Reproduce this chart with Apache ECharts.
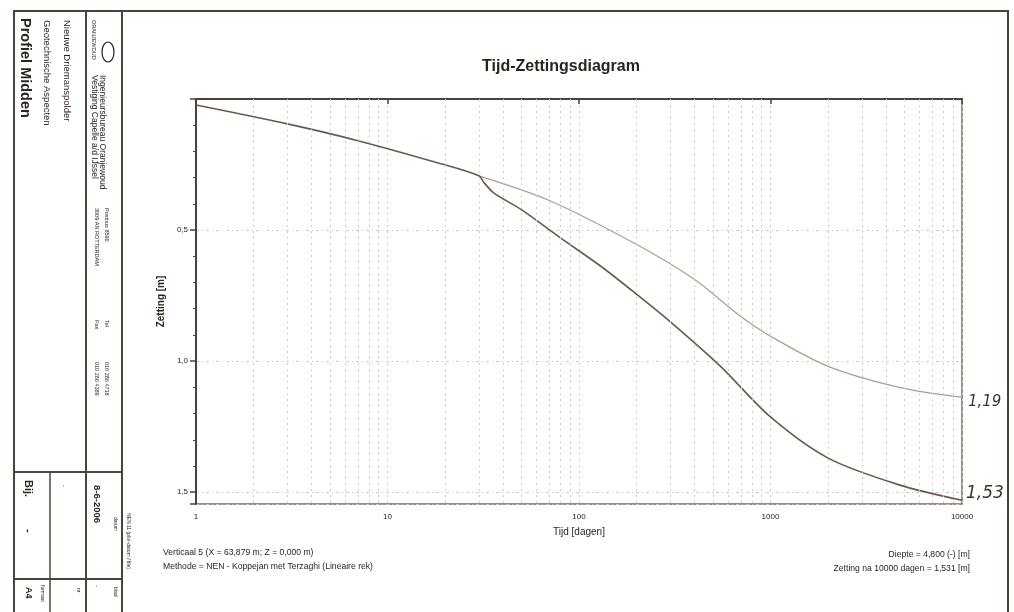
<!DOCTYPE html>
<html>
<head>
<meta charset="utf-8">
<title>Tijd-Zettingsdiagram</title>
<script src="https://cdn.jsdelivr.net/npm/echarts@6/dist/echarts.min.js"></script>
<style>
	html, body { margin: 0; padding: 0; background: #fff; }
	#chart { width: 1014px; height: 612px; }
</style>
</head>
<body>
<div id="chart"></div>
<script>
// values (tijd in dagen, zetting in m)
var upperTime = [30, 70, 200, 400, 700, 1000, 2000, 4700, 10000];
var upperZetting = [0.293, 0.387, 0.555, 0.688, 0.830, 0.905, 1.020, 1.100, 1.138];
var lowerTime = [1, 3, 7, 19, 30, 32, 36, 50, 80, 130, 200, 300, 545, 1000, 2000, 4700, 10000];
var lowerZetting = [0.023, 0.095, 0.159, 0.247, 0.293, 0.320, 0.359, 0.422, 0.530, 0.638, 0.745, 0.850, 1.018, 1.213, 1.370, 1.472, 1.531];
var xTicks = [1, 10, 100, 1000, 10000];
var yTicks = [0.5, 1.0, 1.5];

var ink = '#2b241d';
var frame = '#4e4234';
var faint = '#d4cbbf';
var font = '"Liberation Sans", Arial, sans-serif';

function pairs(xs, ys) {
	var out = [];
	for (var i = 0; i < xs.length; i++) out.push([xs[i], ys[i]]);
	return out;
}

// dotted vertical lines at 2..9 of every decade
var minorLines = [];
for (var d = 1; d < 10000; d *= 10) {
	for (var m = 2; m <= 9; m++) minorLines.push({ xAxis: d * m });
}

function txt(x, y, s, size, opt) {
	opt = opt || {};
	return {
		type: 'text', x: x, y: y,
		rotation: opt.rot ? -Math.PI / 2 : 0,
		style: {
			text: s, x: 0, y: 0,
			fill: opt.color || ink,
			fontFamily: opt.family || font,
			fontSize: size,
			fontWeight: opt.weight || 'normal',
			fontStyle: opt.style || 'normal',
			align: opt.align || 'left',
			verticalAlign: 'middle'
		}
	};
}
function ln(x1, y1, x2, y2, w) {
	return { type: 'line', shape: { x1: x1, y1: y1, x2: x2, y2: y2 }, style: { stroke: frame, lineWidth: w || 1.5 } };
}

var graphics = [
	// page frame + title block
	ln(13, 11, 1008, 11, 2),
	ln(14, 10, 14, 612, 2),
	ln(86, 10, 86, 612, 2),
	ln(122, 10, 122, 612, 2),
	ln(1008, 10, 1008, 612, 2),
	ln(14, 472, 122, 472, 2),
	ln(14, 579, 122, 579, 2),
	ln(50, 472, 50, 612, 1.5),
	txt(67, 20, 'Nieuwe Driemanspolder', 9.5, { rot: true }),
	txt(47, 20, 'Geotechnische Aspecten', 9.5, { rot: true }),
	txt(25, 18, 'Profiel Midden', 14.5, { rot: true, weight: 'bold' }),
	{ type: 'ellipse', shape: { cx: 108, cy: 52, rx: 6, ry: 10 }, style: { fill: 'none', stroke: ink, lineWidth: 1.2 } },
	txt(94, 20, 'ORANJEWOUD', 5.5, { rot: true }),
	txt(102, 75, 'Ingenieursbureau Oranjewoud', 8.5, { rot: true }),
	txt(94, 75, 'Vestiging Capelle a/d IJssel', 8.5, { rot: true }),
	txt(107, 208, 'Postbus 8590', 5.5, { rot: true }),
	txt(97, 208, '3009 AN ROTTERDAM', 5.5, { rot: true }),
	txt(107, 320, 'Tel', 5.5, { rot: true }),
	txt(97, 320, 'Fax', 5.5, { rot: true }),
	txt(107, 362, '010 286 4718', 5.5, { rot: true }),
	txt(97, 362, '010 286 4389', 5.5, { rot: true }),
	txt(97, 485, '8-6-2006', 9.5, { rot: true, weight: 'bold' }),
	txt(115, 517, 'datum', 5, { rot: true }),
	txt(128, 513, 'NEN 11 (plot-datum / file)', 5, { rot: true }),
	txt(28, 480, 'Bij.', 11, { rot: true, weight: 'bold' }),
	txt(28, 529, '-', 11, { rot: true, weight: 'bold' }),
	txt(64, 485, '-', 6, { rot: true }),
	txt(28, 587, 'A4', 9, { rot: true, weight: 'bold' }),
	txt(42, 585, 'formaat', 5, { rot: true }),
	txt(78, 588, 'nr', 5, { rot: true }),
	txt(97, 585, '-', 6, { rot: true }),
	txt(115, 587, 'blad', 5, { rot: true }),
	// notes under the plot
	txt(163, 553, 'Verticaal 5 (X = 63,879 m; Z = 0,000 m)', 8.6),
	txt(163, 567, 'Methode = NEN - Koppejan met Terzaghi (Lineaire rek)', 8.6),
	txt(970, 555, 'Diepte = 4,800 (-) [m]', 8.6, { align: 'right' }),
	txt(970, 569, 'Zetting na 10000 dagen = 1,531 [m]', 8.6, { align: 'right' }),
	// handwritten end values
	txt(968, 402, '1,19', 15, { style: 'italic', family: '"DejaVu Sans", sans-serif', color: '#3d352c' }),
	txt(966, 494, '1,53', 17, { style: 'italic', family: '"DejaVu Sans", sans-serif', color: '#3d352c' })
];

var chart = echarts.init(document.getElementById('chart'));
chart.setOption({
	backgroundColor: '#fff',
	animation: false,
	title: {
		text: 'Tijd-Zettingsdiagram',
		left: 477,
		top: 54,
		textStyle: { color: ink, fontFamily: font, fontSize: 16, fontWeight: 'bold' }
	},
	grid: {
		left: 196, right: 52, top: 99, bottom: 108,
		show: true, borderColor: '#7a6b58', borderWidth: 1.5
	},
	xAxis: {
		type: 'log',
		logBase: 10,
		min: 1,
		max: 10000,
		name: 'Tijd [dagen]',
		nameLocation: 'middle',
		nameGap: 23,
		nameTextStyle: { color: ink, fontFamily: font, fontSize: 10 },
		axisLine: { lineStyle: { color: frame, width: 2 } },
		axisTick: { length: 5, lineStyle: { color: frame, width: 1.5 } },
		axisLabel: {
			color: ink, fontFamily: font, fontSize: 8, margin: 9,
			formatter: function (v) { return xTicks.indexOf(v) >= 0 ? String(v) : ''; }
		},
		splitLine: { show: true, lineStyle: { color: faint, type: [2, 4], width: 1 } }
	},
	yAxis: {
		type: 'value',
		inverse: true,
		min: 0,
		max: 1.545,
		interval: 0.5,
		name: 'Zetting [m]',
		nameLocation: 'middle',
		nameGap: 16,
		nameTextStyle: { color: ink, fontFamily: font, fontSize: 10, fontWeight: 'bold' },
		axisLine: { lineStyle: { color: frame, width: 2 } },
		axisTick: { length: 6, lineStyle: { color: frame, width: 1.5 } },
		minorTick: { show: true, splitNumber: 5, length: 3, lineStyle: { color: frame, width: 1 } },
		axisLabel: {
			color: ink, fontFamily: font, fontSize: 8, margin: 8,
			formatter: function (v) {
				for (var i = 0; i < yTicks.length; i++) {
					if (Math.abs(v - yTicks[i]) < 1e-6) return v.toFixed(1).replace('.', ',');
				}
				return '';
			}
		},
		splitLine: { show: true, lineStyle: { color: faint, type: [3, 3, 1, 3], width: 1 } }
	},
	series: [
		{
			name: 'boven',
			type: 'line',
			data: pairs(upperTime, upperZetting),
			smooth: 0.3,
			symbol: 'none',
			lineStyle: { color: '#ab9e8c', width: 1.2 },
			markLine: {
				silent: true,
				symbol: 'none',
				label: { show: false },
				lineStyle: { color: faint, type: [2, 4], width: 1 },
				data: minorLines
			},
			z: 3
		},
		{
			name: 'onder',
			type: 'line',
			data: pairs(lowerTime, lowerZetting),
			smooth: 0.3,
			symbol: 'none',
			lineStyle: { color: '#6a5948', width: 1.6 },
			z: 4
		}
	],
	graphic: graphics
});
</script>
</body>
</html>
